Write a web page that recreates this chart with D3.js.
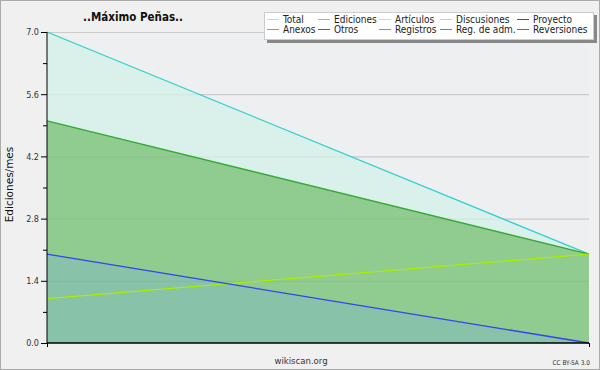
<!DOCTYPE html>
<html><head><meta charset="utf-8">
<script src="https://cdn.jsdelivr.net/npm/d3@7"></script>
<style>body{margin:0;background:#f0f0f0}svg{display:block}</style>
</head><body>
<svg id="c" width="600" height="370"></svg>
<script>
const title = "..Máximo Peñas..";
const months = ["m1", "m2"];
const total = [7.0, 2.0];
const ediciones = [5.0, 2.0];
const articulos = [1.0, 2.0];
const registros = [2.0, 0.0];
const yTicks = [0.0, 1.4, 2.8, 4.2, 5.6, 7.0];
const legendRow1 = ["Total", "Ediciones", "Artículos", "Discusiones", "Proyecto"];
const legendRow2 = ["Anexos", "Otros", "Registros", "Reg. de adm.", "Reversiones"];
const legendColors1 = ["#a8e4e0", "#88cc88", "#ccee66", "#ffcc44", "#555555"];
const legendColors2 = ["#ff7744", "#8833dd", "#7788ee", "#cc44dd", "#ee3333"];

const svg = d3.select("#c");
svg.append("rect").attr("x",0.5).attr("y",0.5).attr("width",599).attr("height",369)
  .attr("fill","#f0f0f0").attr("stroke","#aaaaaa");

const L = 47, R = 589, T = 32, B = 343;
const x = d3.scalePoint().domain(months).range([L, R]);
const y = d3.scaleLinear().domain([0, 7]).range([B, T]);

svg.append("rect").attr("x",L).attr("y",T).attr("width",R-L).attr("height",B-T).attr("fill","#eeeff1");

svg.append("g").selectAll("line").data(yTicks.slice(1)).join("line")
  .attr("x1",L).attr("x2",R).attr("y1",d=>y(d)+0.5).attr("y2",d=>y(d)+0.5)
  .attr("stroke","#cccccc");

const area = d3.area().x((d,i)=>x(months[i])).y0(y(0)).y1(d=>y(d));
const line = d3.line().x((d,i)=>x(months[i])).y(d=>y(d));

svg.append("path").datum(total).attr("d",area).attr("fill","#d9f1ea");
svg.append("path").datum(ediciones).attr("d",area).attr("fill","#90cb90");
svg.append("path").datum(registros).attr("d",area).attr("fill","#88c2a8");

svg.append("g").selectAll("line").data(yTicks.slice(1,-1)).join("line")
  .attr("x1",L).attr("x2",R).attr("y1",d=>y(d)+0.5).attr("y2",d=>y(d)+0.5)
  .attr("stroke","#000").attr("stroke-opacity",0.05);

svg.append("path").datum(total).attr("d",line).attr("fill","none").attr("stroke","#33d0cc").attr("stroke-width",1.3);
svg.append("path").datum(ediciones).attr("d",line).attr("fill","none").attr("stroke","#33aa33").attr("stroke-width",1.3);
svg.append("path").datum(articulos).attr("d",line).attr("fill","none").attr("stroke","#aaee00").attr("stroke-width",1.3);
svg.append("path").datum(registros).attr("d",line).attr("fill","none").attr("stroke","#3344ee").attr("stroke-width",1.3);

const minor = d3.range(0, 7.01, 0.7);
const yAxis = d3.axisLeft(y).tickValues(yTicks).tickFormat(d3.format(".1f")).tickSize(6).tickPadding(2);
const gy = svg.append("g").attr("transform",`translate(${L},0)`).call(yAxis);
gy.select(".domain").attr("stroke","#000").attr("d",`M0,${T}V${B}`);
gy.selectAll("text").attr("font-family","DejaVu Sans Condensed, DejaVu Sans").attr("font-size",9).attr("fill","#333");
svg.append("g").selectAll("line").data(minor.filter((d,i)=>i%2===1)).join("line")
  .attr("x1",L-4).attr("x2",L).attr("y1",d=>y(d)+0.5).attr("y2",d=>y(d)+0.5).attr("stroke","#000");

const xAxis = d3.axisBottom(x).tickSize(4).tickFormat("");
const gx = svg.append("g").attr("transform",`translate(0,${B})`).call(xAxis);
gx.select(".domain").attr("stroke","#000").attr("stroke-width",1.5).attr("d",`M${L},0H${R}`);

svg.append("text").attr("x",133).attr("y",21).attr("text-anchor","middle")
  .attr("font-family","DejaVu Sans Condensed, DejaVu Sans").attr("font-weight","bold").attr("font-size",11.5).attr("fill","#111").text(title);
svg.append("text").attr("transform",`translate(13,${(T+B)/2 - 3}) rotate(-90)`).attr("text-anchor","middle")
  .attr("font-family","DejaVu Sans").attr("font-size",10.5).attr("fill","#111").text("Ediciones/mes");
svg.append("text").attr("x",301).attr("y",364).attr("text-anchor","middle")
  .attr("font-family","DejaVu Sans Condensed, DejaVu Sans").attr("font-size",9.5).attr("fill","#333").text("wikiscan.org");
svg.append("text").attr("x",590).attr("y",365).attr("text-anchor","end")
  .attr("font-family","DejaVu Sans Condensed, DejaVu Sans").attr("font-size",6.5).attr("fill","#333").text("CC BY-SA 3.0");

svg.append("rect").attr("x",267).attr("y",15).attr("width",330).attr("height",28).attr("fill","#888");
svg.append("rect").attr("x",264.5).attr("y",12.5).attr("width",329).attr("height",27).attr("fill","#ffffff").attr("stroke","#cccccc");
const colX = [267, 318, 379, 440, 517];
const lg = svg.append("g").attr("font-family","DejaVu Sans Condensed, DejaVu Sans").attr("font-size",10).attr("fill","#222");
[legendRow1, legendRow2].forEach((row, r) => {
  const cols = r === 0 ? legendColors1 : legendColors2;
  row.forEach((name, i) => {
    const ly = 19.5 + r*10;
    lg.append("line").attr("x1",colX[i]).attr("x2",colX[i]+12).attr("y1",ly).attr("y2",ly).attr("stroke",cols[i]);
    lg.append("text").attr("x",colX[i]+16).attr("y",ly+3.5).text(name);
  });
});
</script>
</body></html>
